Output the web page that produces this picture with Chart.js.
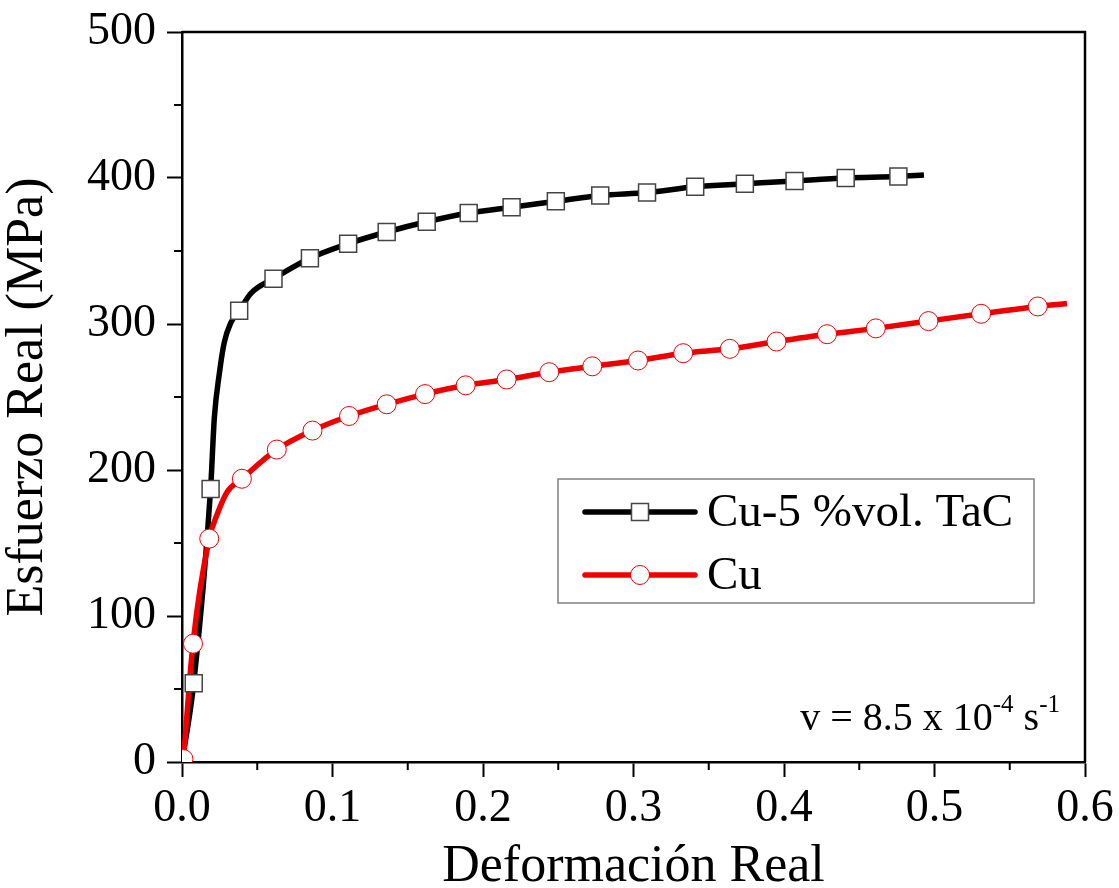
<!DOCTYPE html>
<html><head><meta charset="utf-8">
<script src="https://cdn.jsdelivr.net/npm/chart.js@4.4.0/dist/chart.umd.min.js"></script>
<style>html,body{margin:0;padding:0;background:#fff;} canvas{display:block;}</style>
</head><body>
<canvas id="c" width="1119" height="888"></canvas>
<script>
// Cu-5 %vol. TaC curve (true strain, true stress MPa)
const strainTaC = [0, 0.0078, 0.019, 0.0215, 0.0248, 0.028, 0.0325, 0.038, 0.0458, 0.0608, 0.085, 0.1104, 0.136, 0.1626, 0.1905, 0.219, 0.2484, 0.2779, 0.309, 0.341, 0.374, 0.407, 0.441, 0.476, 0.493];
const stressTaC = [0, 54, 187, 236, 266, 287, 301, 309, 321, 331, 345, 355, 363, 370, 376, 380, 384, 388, 390, 394, 396, 398, 400, 401, 402];
// markers on the TaC curve
const markStrainTaC = [0.0078, 0.019, 0.038, 0.0608, 0.085, 0.1104, 0.136, 0.1626, 0.1905, 0.219, 0.2484, 0.2779, 0.309, 0.341, 0.374, 0.407, 0.441, 0.476];
const markStressTaC = [54, 187, 309, 331, 345, 355, 363, 370, 376, 380, 384, 388, 390, 394, 396, 398, 400, 401];

// Cu curve
const strainCu = [0.001, 0.0073, 0.0181, 0.0235, 0.030, 0.0398, 0.063, 0.0867, 0.111, 0.136, 0.1615, 0.1885, 0.2157, 0.244, 0.2726, 0.303, 0.333, 0.364, 0.395, 0.4286, 0.461, 0.496, 0.531, 0.5686, 0.588];
const stressCu = [2, 81, 153, 170, 185, 194, 214, 227, 237, 245, 252, 258, 262, 267, 271, 275, 280, 283, 288, 293, 297, 302, 307, 312, 314];
const markStrainCu = [0.001, 0.0073, 0.0181, 0.0398, 0.063, 0.0867, 0.111, 0.136, 0.1615, 0.1885, 0.2157, 0.244, 0.2726, 0.303, 0.333, 0.364, 0.395, 0.4286, 0.461, 0.496, 0.531, 0.5686];
const markStressCu = [2, 81, 153, 194, 214, 227, 237, 245, 252, 258, 262, 267, 271, 275, 280, 283, 288, 293, 297, 302, 307, 312];

// ticks
const xTickValues = [0, 0.1, 0.2, 0.3, 0.4, 0.5, 0.6];
const xTickLabels = ['0.0', '0.1', '0.2', '0.3', '0.4', '0.5', '0.6'];
const xMinorValues = [0.05, 0.15, 0.25, 0.35, 0.45, 0.55];
const yTickValues = [0, 100, 200, 300, 400, 500];
const yTickLabels = ['0', '100', '200', '300', '400', '500'];
const yMinorValues = [50, 150, 250, 350, 450];

const seriesNames = ['Cu-5 %vol. TaC', 'Cu'];
const xTitle = 'Deformación Real';
const yTitle = 'Esfuerzo Real (MPa)';

const FONT = "'Liberation Serif','Times New Roman',serif";
const BLACK = '#000000', RED = '#ee0000';

const pts = (xs, ys) => xs.map((x, i) => ({x: x, y: ys[i]}));

const framePlugin = {
  id: 'frame',
  afterDraw(chart) {
    const {ctx, chartArea: a, scales: {x, y}} = chart;
    ctx.save();
    ctx.strokeStyle = '#000';
    ctx.lineWidth = 2.5;
    ctx.beginPath();
    ctx.moveTo(a.left, a.top); ctx.lineTo(a.right, a.top); ctx.lineTo(a.right, a.bottom);
    ctx.stroke();
    ctx.lineWidth = 2;
    yMinorValues.forEach(v => {
      const p = y.getPixelForValue(v);
      ctx.beginPath(); ctx.moveTo(a.left - 8, p); ctx.lineTo(a.left, p); ctx.stroke();
    });
    xMinorValues.forEach(v => {
      const p = x.getPixelForValue(v);
      ctx.beginPath(); ctx.moveTo(p, a.bottom); ctx.lineTo(p, a.bottom + 8); ctx.stroke();
    });
    ctx.restore();
  }
};

const legendPlugin = {
  id: 'boxLegend',
  afterDraw(chart) {
    const ctx = chart.ctx;
    const ds = chart.data.datasets;
    ctx.save();
    ctx.fillStyle = '#fff';
    ctx.fillRect(558, 479, 476, 124);
    ctx.strokeStyle = '#808080';
    ctx.lineWidth = 1.5;
    ctx.strokeRect(558, 479, 476, 124);
    const rows = [{line: ds[0], mark: ds[2], y: 512}, {line: ds[1], mark: ds[3], y: 575}];
    rows.forEach((r, i) => {
      ctx.strokeStyle = r.line.borderColor;
      ctx.lineWidth = r.line.borderWidth;
      ctx.lineCap = 'round';
      ctx.beginPath(); ctx.moveTo(585, r.y); ctx.lineTo(695, r.y); ctx.stroke();
      ctx.fillStyle = r.mark.pointBackgroundColor;
      ctx.strokeStyle = r.mark.pointBorderColor;
      ctx.lineWidth = r.mark.pointBorderWidth;
      ctx.beginPath();
      if (r.mark.pointStyle === 'rect') {
        const s = r.mark.pointRadius * Math.SQRT1_2;
        ctx.rect(640 - s, r.y - s, 2 * s, 2 * s);
      } else {
        ctx.arc(640, r.y, r.mark.pointRadius, 0, Math.PI * 2);
      }
      ctx.fill(); ctx.stroke();
      ctx.fillStyle = '#000';
      ctx.font = '47px ' + FONT;
      ctx.textBaseline = 'alphabetic';
      ctx.textAlign = 'left';
      ctx.fillText(seriesNames[i], 707, r.y + 14);
    });
    ctx.restore();
  }
};

const notePlugin = {
  id: 'note',
  afterDraw(chart) {
    const ctx = chart.ctx;
    ctx.save();
    ctx.fillStyle = '#000';
    ctx.textBaseline = 'alphabetic';
    ctx.textAlign = 'left';
    const big = '40px ' + FONT, small = '25px ' + FONT;
    const parts = [
      {t: 'v = 8.5 x 10', f: big, dy: 0},
      {t: '-4', f: small, dy: -18},
      {t: ' s', f: big, dy: 0},
      {t: '-1', f: small, dy: -18}
    ];
    let total = 0;
    parts.forEach(p => { ctx.font = p.f; p.w = ctx.measureText(p.t).width; total += p.w; });
    let xPos = 1060 - total;
    parts.forEach(p => { ctx.font = p.f; ctx.fillText(p.t, xPos, 730 + p.dy); xPos += p.w; });
    ctx.restore();
  }
};

new Chart(document.getElementById('c'), {
  type: 'scatter',
  data: {
    datasets: [
      {label: seriesNames[0], data: pts(strainTaC, stressTaC), showLine: true, borderColor: BLACK, borderWidth: 5.5,
       pointRadius: 0, cubicInterpolationMode: 'monotone', order: 3},
      {label: seriesNames[1], data: pts(strainCu, stressCu), showLine: true, borderColor: RED, borderWidth: 5.5,
       pointRadius: 0, cubicInterpolationMode: 'monotone', order: 2},
      {label: seriesNames[0] + ' markers', data: pts(markStrainTaC, markStressTaC), showLine: false, pointStyle: 'rect',
       pointRadius: 12, pointBackgroundColor: '#ffffff', pointBorderColor: '#444444', pointBorderWidth: 1.5, order: 1},
      {label: seriesNames[1] + ' markers', data: pts(markStrainCu, markStressCu), showLine: false, pointStyle: 'circle',
       pointRadius: 9.5, pointBackgroundColor: '#ffffff', pointBorderColor: RED, pointBorderWidth: 1, order: 0}
    ]
  },
  options: {
    responsive: false,
    animation: false,
    layout: {padding: 0},
    plugins: {legend: {display: false}, tooltip: {enabled: false}},
    scales: {
      x: {
        type: 'linear', min: 0, max: 0.6,
        afterBuildTicks(s) { s.ticks = xTickValues.map(v => ({value: v})); },
        ticks: {callback: (v, i) => xTickLabels[i], font: {family: FONT, size: 46}, color: '#000', padding: 4, maxRotation: 0, autoSkip: false},
        grid: {drawOnChartArea: false, tickLength: 15, tickWidth: 2, tickColor: '#000'},
        border: {color: '#000', width: 2.5},
        title: {display: true, text: xTitle, font: {family: FONT, size: 52, lineHeight: 0.8}, color: '#000', padding: {top: 0, bottom: 0}},
        afterFit(s) { s.height = 126; s.paddingLeft = 0; s.paddingRight = 34; }
      },
      y: {
        type: 'linear', min: 0, max: 500,
        afterBuildTicks(s) { s.ticks = yTickValues.map(v => ({value: v})); },
        ticks: {callback: (v, i) => yTickLabels[i], font: {family: FONT, size: 46}, color: '#000', padding: 11, autoSkip: false},
        grid: {drawOnChartArea: false, tickLength: 15, tickWidth: 2, tickColor: '#000'},
        border: {color: '#000', width: 2.5},
        title: {display: true, text: yTitle, font: {family: FONT, size: 52, lineHeight: 0.8}, color: '#000', padding: {top: 8, bottom: 0}},
        afterFit(s) { s.width = 182; s.paddingTop = 32; s.paddingBottom = 0; }
      }
    }
  },
  plugins: [framePlugin, legendPlugin, notePlugin]
});
</script>
</body></html>
